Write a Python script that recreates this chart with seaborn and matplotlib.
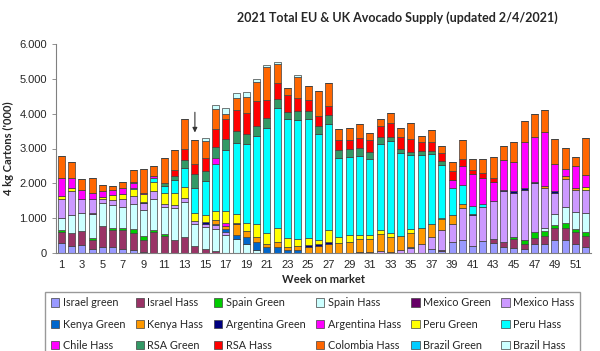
import numpy as np
import pandas as pd
import matplotlib.pyplot as plt
from matplotlib.patches import Patch
from matplotlib.ticker import FuncFormatter
import seaborn as sns

# --- weekly supply, 4 kg cartons ('000 shown as units) ---
weeks = list(range(1, 53))

israel_green = [280, 200, 220, 120, 180, 170, 110, 100, 20, 0,
                0, 0, 0, 0, 0, 0, 0, 0, 0, 0,
                0, 0, 0, 0, 0, 0, 0, 0, 0, 0,
                0, 0, 0, 0, 0, 0, 110, 60, 310, 370,
                210, 340, 300, 180, 130, 110, 250, 250, 370, 370,
                250, 180]
israel_hass = [330, 360, 410, 260, 600, 500, 560, 470, 360, 600,
               490, 370, 470, 200, 110, 70, 0, 0, 0, 0,
               0, 0, 0, 0, 0, 0, 0, 0, 0, 0,
               0, 0, 0, 0, 0, 0, 0, 30, 0, 0,
               0, 0, 100, 140, 260, 160, 190, 240, 350, 360,
               360, 310]
spain_green = [60, 0, 0, 60, 0, 40, 50, 110, 100, 60,
               60, 0, 0, 0, 0, 0, 0, 0, 0, 0,
               0, 0, 0, 0, 0, 0, 0, 0, 0, 0,
               0, 0, 0, 0, 0, 0, 0, 0, 0, 0,
               0, 0, 0, 0, 80, 110, 170, 140, 80, 130,
               70, 100]
spain_hass = [330, 540, 520, 680, 660, 670, 610, 720, 750, 880,
              760, 910, 980, 630, 640, 620, 520, 390, 260, 100,
              0, 0, 0, 0, 0, 0, 0, 0, 0, 0,
              0, 0, 0, 0, 0, 0, 0, 0, 0, 0,
              0, 0, 0, 0, 0, 0, 0, 100, 320, 460,
              490, 560]
mexico_green = [0, 0, 0, 30, 0, 0, 0, 0, 0, 0,
                0, 0, 0, 0, 0, 0, 0, 0, 0, 0,
                0, 0, 0, 0, 0, 0, 0, 0, 0, 40,
                30, 0, 40, 0, 0, 0, 0, 0, 0, 0,
                0, 0, 0, 0, 0, 0, 0, 0, 0, 0,
                0, 0]
mexico_hass = [550, 680, 400, 410, 110, 130, 210, 230, 200, 240,
               110, 110, 140, 80, 80, 100, 70, 0, 0, 0,
               0, 0, 0, 0, 0, 0, 0, 0, 0, 0,
               0, 70, 0, 90, 130, 250, 340, 570, 530, 930,
               880, 970, 1080, 1450, 1250, 1440, 1390, 1140, 610, 810,
               640, 670]
kenya_green = [0, 0, 0, 0, 0, 0, 0, 0, 0, 0,
               0, 0, 0, 0, 0, 50, 100, 140, 210, 220,
               160, 160, 100, 90, 0, 0, 0, 0, 0, 0,
               0, 0, 0, 0, 50, 0, 0, 0, 0, 0,
               0, 0, 0, 0, 0, 0, 0, 0, 0, 0,
               0, 0]
kenya_hass = [0, 0, 0, 0, 0, 0, 0, 0, 0, 0,
              0, 0, 0, 0, 0, 110, 80, 290, 170, 140,
              110, 160, 80, 100, 170, 200, 260, 280, 330, 350,
              360, 470, 410, 400, 400, 480, 380, 310, 260, 100,
              0, 0, 0, 0, 0, 0, 0, 50, 0, 70,
              50, 0]
argentina_green = [0, 0, 0, 0, 0, 0, 0, 0, 40, 0,
                   0, 0, 0, 0, 60, 0, 0, 30, 0, 0,
                   0, 0, 0, 0, 60, 60, 70, 0, 0, 0,
                   0, 0, 0, 0, 0, 0, 0, 0, 0, 0,
                   30, 0, 0, 40, 50, 60, 50, 0, 60, 0,
                   0, 0]
argentina_hass = [0, 0, 0, 0, 0, 0, 0, 0, 0, 0,
                  0, 0, 0, 0, 0, 0, 80, 0, 0, 0,
                  0, 0, 0, 0, 0, 0, 0, 0, 0, 0,
                  0, 0, 0, 0, 0, 0, 0, 0, 0, 0,
                  0, 0, 0, 0, 0, 0, 0, 0, 0, 0,
                  0, 0]
peru_green = [100, 100, 0, 0, 60, 150, 150, 200, 210, 270,
              300, 320, 300, 250, 190, 270, 360, 270, 230, 360,
              290, 410, 240, 210, 190, 110, 340, 190, 190, 140,
              140, 110, 110, 0, 120, 0, 0, 30, 0, 0,
              0, 0, 0, 0, 0, 0, 0, 0, 0, 0,
              0, 80]
peru_hass = [0, 0, 0, 0, 0, 0, 0, 50, 0, 100,
             210, 380, 550, 700, 1000, 1330, 1760, 2050, 2260, 2530,
             3040, 3440, 3430, 3410, 3420, 3040, 3040, 2250, 2230, 2250,
             2160, 2480, 2660, 2380, 2110, 2090, 2000, 1530, 770, 560,
             230, 100, 0, 0, 0, 0, 0, 0, 0, 0,
             0, 0]
chile_hass = [500, 270, 250, 170, 170, 160, 190, 120, 40, 50,
              0, 0, 0, 0, 0, 170, 0, 0, 0, 0,
              0, 0, 0, 0, 0, 0, 0, 0, 0, 0,
              0, 0, 0, 0, 0, 0, 0, 0, 240, 530,
              920, 740, 550, 860, 830, 1310, 1290, 1560, 760, 220,
              640, 330]
rsa_green = [0, 0, 0, 0, 0, 0, 0, 30, 0, 0,
             80, 120, 220, 400, 280, 310, 310, 320, 280, 290,
             270, 240, 210, 260, 240, 240, 240, 240, 230, 240,
             220, 190, 110, 110, 100, 100, 100, 100, 0, 0,
             0, 0, 0, 0, 0, 0, 0, 0, 0, 0,
             0, 0]
rsa_hass = [0, 0, 0, 0, 0, 0, 0, 0, 0, 0,
            0, 170, 330, 290, 380, 530, 570, 620, 620, 720,
            510, 460, 480, 380, 320, 270, 270, 290, 250, 270,
            320, 340, 410, 360, 360, 260, 260, 240, 240, 210,
            120, 140, 120, 0, 0, 0, 0, 0, 0, 0,
            0, 0]
colombia_hass = [630, 460, 330, 420, 170, 100, 150, 340, 690, 310,
                 710, 570, 860, 700, 470, 580, 150, 340, 460, 540,
                 960, 550, 210, 600, 380, 730, 650, 310, 350, 410,
                 210, 190, 280, 240, 470, 170, 340, 190, 270, 530,
                 310, 400, 600, 400, 580, 600, 650, 620, 720, 590,
                 250, 1060]
brazil_green = [0] * 52
brazil_hass = [0, 0, 0, 0, 0, 0, 0, 0, 0, 0,
               0, 0, 0, 0, 80, 110, 160, 140, 125, 90,
               70, 50, 0, 60, 0, 0, 0, 0, 0, 0,
               0, 0, 0, 0, 0, 0, 0, 0, 0, 0,
               0, 0, 0, 0, 0, 0, 0, 0, 0, 0,
               0, 0]

series = {
    "Israel green": israel_green, "Israel Hass": israel_hass,
    "Spain Green": spain_green, "Spain Hass": spain_hass,
    "Mexico Green": mexico_green, "Mexico Hass": mexico_hass,
    "Kenya Green": kenya_green, "Kenya Hass": kenya_hass,
    "Argentina Green": argentina_green, "Argentina Hass": argentina_hass,
    "Peru Green": peru_green, "Peru Hass": peru_hass,
    "Chile Hass": chile_hass, "RSA Green": rsa_green,
    "RSA Hass": rsa_hass, "Colombia Hass": colombia_hass,
    "Brazil Green": brazil_green, "Brazil Hass": brazil_hass,
}
colors = {
    "Israel green": "#9999ff", "Israel Hass": "#993366",
    "Spain Green": "#00cc00", "Spain Hass": "#ccffff",
    "Mexico Green": "#660066", "Mexico Hass": "#cc99ff",
    "Kenya Green": "#0066cc", "Kenya Hass": "#ff9900",
    "Argentina Green": "#000080", "Argentina Hass": "#ff00ff",
    "Peru Green": "#ffff00", "Peru Hass": "#00ffff",
    "Chile Hass": "#ff00ff", "RSA Green": "#339966",
    "RSA Hass": "#ff0000", "Colombia Hass": "#ff6600",
    "Brazil Green": "#00ccff", "Brazil Hass": "#ccffff",
}

df = pd.DataFrame([(w, name, v) for name, vals in series.items()
                   for w, v in zip(weeks, vals)],
                  columns=["week", "origin", "cartons"])

sns.set_style("white")
plt.rcParams["font.family"] = ["Liberation Sans", "DejaVu Sans"]

fig = plt.figure(figsize=(6, 3.51), dpi=100)
ax = fig.add_axes([56/600, 1 - 253/351, 535/600, 209/351])

order = list(series.keys())
# seaborn puts the first hue level on top of the stack -> reverse it
sns.histplot(data=df, x="week", weights="cartons", hue="origin",
             hue_order=order[::-1], multiple="stack", discrete=True,
             shrink=0.68, palette=colors, alpha=1, edgecolor="#404040",
             linewidth=0.5, legend=False, ax=ax)

ax.set_xlim(0.5, 52.5)
ax.set_ylim(0, 6000)
ax.set_yticks(range(0, 6001, 1000))
ax.yaxis.set_major_formatter(FuncFormatter(lambda v, p: f"{int(v):,}".replace(",", ".")))
ax.set_xticks(range(1, 53, 2))
ax.set_xticks(np.arange(0.5, 53, 1), minor=True)
ax.tick_params(axis="x", which="major", length=0, labelsize=8, pad=5)
ax.tick_params(axis="x", which="minor", length=3, width=0.6, color="#808080", direction="out")
ax.tick_params(axis="y", length=3, width=0.6, color="#808080", labelsize=8, left=True, direction="out")
for s in ["top", "right"]:
    ax.spines[s].set_visible(False)
for s in ["left", "bottom"]:
    ax.spines[s].set_color("#808080")
    ax.spines[s].set_linewidth(0.8)

ax.set_xlabel("Week on market", fontsize=8, fontweight="bold", family="Lato", labelpad=3)
ax.set_ylabel("4 kg Cartons ('000)", fontsize=8, fontweight="bold", family="Lato", labelpad=4)

ax.annotate("", xy=(14, 3380), xytext=(14, 4120),
            arrowprops=dict(arrowstyle="-|>", color="#333333", lw=0.8, mutation_scale=7))

fig.text(0.663, 1 - 18/351, "2021 Total EU & UK Avocado Supply (updated 2/4/2021)",
         ha="center", va="center", fontsize=9, fontweight="bold", family="Lato")

# legend laid out row by row like the original
handles = [Patch(facecolor=colors[n], edgecolor="#404040", linewidth=0.5) for n in order]
idx = [r * 6 + c for c in range(6) for r in range(3)]
fig.legend([handles[i] for i in idx], [order[i] for i in idx], ncol=6,
           loc="upper left", bbox_to_anchor=(40/600, 1 - 290/351, 545/600, 0.01),
           mode="expand", frameon=True, fancybox=False, edgecolor="#808080",
           prop={"family": "Lato", "size": 7.8},
           handlelength=0.8, handleheight=0.8, handletextpad=0.3,
           labelspacing=0.95, borderpad=0.5, columnspacing=0.5)

fig.savefig("out.png", dpi=100)
